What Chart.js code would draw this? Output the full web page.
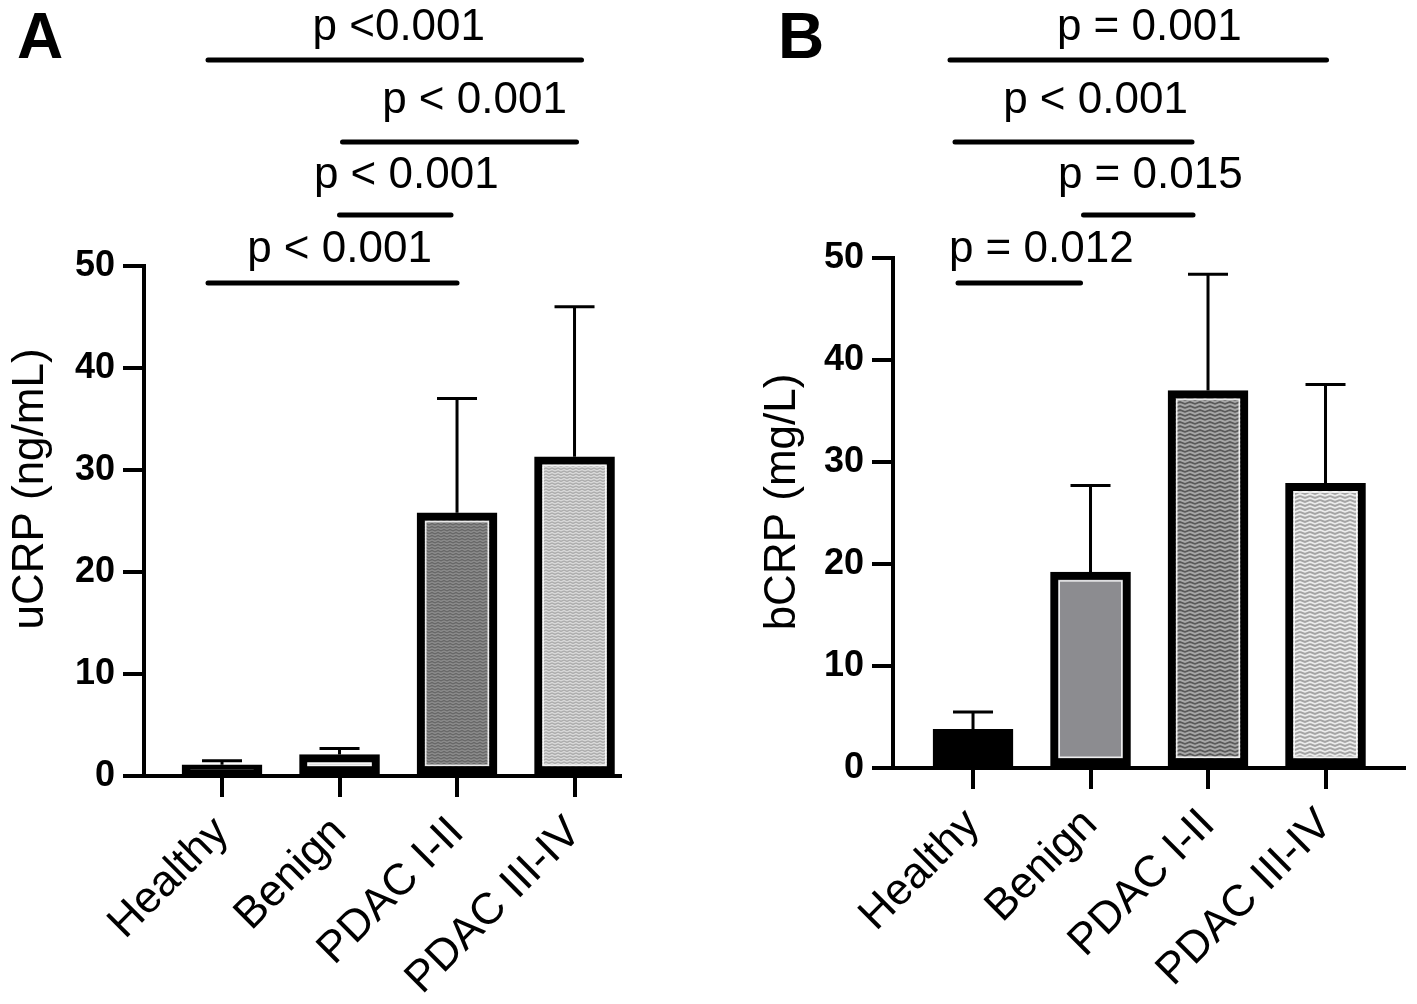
<!DOCTYPE html>
<html>
<head>
<meta charset="utf-8">
<script src="https://cdn.jsdelivr.net/npm/chart.js@4.4.1/dist/chart.umd.min.js"></script>
<style>
body{margin:0;background:#fff;width:1417px;height:1004px;position:relative;overflow:hidden}
canvas{position:absolute;top:0}
#chartA{left:0}
#chartB{left:700px}
</style>
</head>
<body>
<canvas id="chartA" width="700" height="1004"></canvas>
<canvas id="chartB" width="717" height="1004"></canvas>
<script>
// data
var groups = ["Healthy", "Benign", "PDAC I-II", "PDAC III-IV"];
var yTicks = [0, 10, 20, 30, 40, 50];
var uCrpMean = [1.1, 2.1, 25.8, 31.3];
var uCrpSd = [0.4, 0.6, 11.2, 14.7];
var bCrpMean = [3.8, 19.2, 37.0, 27.9];
var bCrpSd = [1.7, 8.5, 11.4, 9.7];
var uCrpPairs = [[0, 3], [1, 3], [1, 2], [0, 2]];
var uCrpP = ["p <0.001", "p < 0.001", "p < 0.001", "p < 0.001"];
var bCrpPairs = [[0, 3], [0, 2], [1, 2], [0, 1]];
var bCrpP = ["p = 0.001", "p < 0.001", "p = 0.015", "p = 0.012"];

Chart.defaults.font.family = "'Liberation Sans', Arial, sans-serif";
Chart.defaults.color = "#000";

function zigzag(ctx, bg, fg, w, h, lw) {
	var tile = document.createElement('canvas');
	tile.width = w;
	tile.height = h;
	var g = tile.getContext('2d');
	g.fillStyle = bg;
	g.fillRect(0, 0, w, h);
	g.strokeStyle = fg;
	g.lineWidth = lw;
	g.beginPath();
	for (var y = -h; y <= 2 * h; y += h / 2) {
		g.moveTo(0, y);
		g.lineTo(w / 2, y + h / 4);
		g.lineTo(w, y);
	}
	g.stroke();
	return ctx.createPattern(tile, 'repeat');
}

function overlay(cfg) {
	return {
		id: 'overlay',
		afterDatasetsDraw: function (chart) {
			var c = chart.ctx, xs = chart.scales.x, ys = chart.scales.y;
			var bars = chart.getDatasetMeta(0).data;
			c.save();
			//light edge inside the black frame
			bars.forEach(function (b, i) {
				if (!cfg.innerEdge[i]) return;
				var p = b.getProps(['x', 'y', 'base', 'width'], true);
				c.strokeStyle = 'rgba(255,255,255,0.85)';
				c.lineWidth = 1.5;
				c.strokeRect(p.x - p.width / 2 + 8.75, p.y + 8.75, p.width - 17.5, Math.max(p.base - p.y - 17.5, 1));
			});
			//error bars, upper side only
			c.strokeStyle = '#000';
			c.lineWidth = 3;
			cfg.means.forEach(function (m, i) {
				var x = xs.getPixelForValue(i);
				var y0 = ys.getPixelForValue(m);
				var y1 = ys.getPixelForValue(m + cfg.sd[i]);
				c.beginPath();
				c.moveTo(x, y0);
				c.lineTo(x, y1);
				c.moveTo(x - 20, y1);
				c.lineTo(x + 20, y1);
				c.stroke();
			});
			c.restore();
		},
		afterDraw: function (chart) {
			var c = chart.ctx, xs = chart.scales.x;
			c.save();
			c.fillStyle = '#000';
			c.strokeStyle = '#000';
			//significance brackets
			c.lineWidth = 5;
			c.lineCap = 'round';
			c.font = "44px 'Liberation Sans', Arial, sans-serif";
			c.textAlign = 'center';
			c.textBaseline = 'alphabetic';
			cfg.pairs.forEach(function (pr, k) {
				var x1 = xs.getPixelForValue(pr[0]) + cfg.nudge[k][0];
				var x2 = xs.getPixelForValue(pr[1]) + cfg.nudge[k][1];
				c.beginPath();
				c.moveTo(x1, cfg.lineY[k]);
				c.lineTo(x2, cfg.lineY[k]);
				c.stroke();
				c.fillText(cfg.pLabels[k], (x1 + x2) / 2 + cfg.textDx[k], cfg.textY[k]);
			});
			//y axis title
			c.save();
			c.translate(cfg.titleX, cfg.titleY);
			c.rotate(-Math.PI / 2);
			c.textBaseline = 'middle';
			c.fillText(cfg.title, 0, 0);
			c.restore();
			//panel letter
			c.font = "bold 64px 'Liberation Sans', Arial, sans-serif";
			c.textAlign = 'left';
			c.fillText(cfg.letter, cfg.letterX, 58);
			c.restore();
		}
	};
}

function panelChart(id, cfg) {
	var ctx = document.getElementById(id).getContext('2d');
	return new Chart(ctx, {
		type: 'bar',
		data: {
			datasets: [{
				data: cfg.means.map(function (m, i) { return {x: i, y: m}; }),
				backgroundColor: cfg.fills(ctx),
				borderColor: '#000',
				borderWidth: 8,
				borderSkipped: false,
				barThickness: 80
			}]
		},
		options: {
			responsive: false,
			animation: false,
			devicePixelRatio: 1,
			layout: {padding: {left: 0, top: cfg.top, right: cfg.right, bottom: 0}},
			plugins: {legend: {display: false}, tooltip: {enabled: false}},
			scales: {
				x: {
					type: 'linear',
					offset: false,
					min: cfg.xMin,
					max: cfg.xMax,
					afterBuildTicks: function (s) {
						s.ticks = groups.map(function (g, i) { return {value: i}; });
					},
					afterFit: function (s) { s.height = cfg.xHeight; },
					ticks: {
						autoSkip: false,
						minRotation: 45,
						maxRotation: 45,
						padding: 10,
						color: '#000',
						font: {size: 44},
						callback: function (v) { return groups[v]; }
					},
					grid: {offset: false, drawOnChartArea: false, color: '#000', lineWidth: 4, tickLength: 21},
					border: {color: '#000', width: 4}
				},
				y: {
					min: 0,
					max: 50,
					afterBuildTicks: function (s) {
						s.ticks = yTicks.map(function (v) { return {value: v}; });
					},
					afterFit: function (s) { s.width = cfg.yWidth; },
					ticks: {padding: 8, color: '#000', font: {size: 36, weight: 'bold'}},
					grid: {drawOnChartArea: false, color: '#000', lineWidth: 4, tickLength: 21},
					border: {color: '#000', width: 4}
				}
			}
		},
		plugins: [overlay(cfg)]
	});
}

panelChart('chartA', {
	means: uCrpMean,
	sd: uCrpSd,
	pairs: uCrpPairs,
	pLabels: uCrpP,
	title: 'uCRP (ng/mL)',
	letter: 'A',
	fills: function (ctx) {
		return ['#000', '#c4c4c4', zigzag(ctx, '#666', '#8c8c8c', 6, 6, 1.5), zigzag(ctx, '#dcdcdc', '#adadad', 6, 6, 1.5)];
	},
	innerEdge: [false, true, true, true],
	top: 266, right: 80, yWidth: 144, xHeight: 228,
	xMin: -0.664, xMax: 3.387,
	lineY: [60, 142, 215, 283],
	textY: [40, 113, 188, 262],
	nudge: [[-14, 7], [3, 2], [0, -6], [-14, 0]],
	textDx: [4, 15, 11, 7],
	titleX: 31, titleY: 489, letterX: 17
});

panelChart('chartB', {
	means: bCrpMean,
	sd: bCrpSd,
	pairs: bCrpPairs,
	pLabels: bCrpP,
	title: 'bCRP (mg/L)',
	letter: 'B',
	fills: function (ctx) {
		return ['#000', '#8c8c90', zigzag(ctx, '#5a5a5a', '#a8a8a8', 10, 8, 2), zigzag(ctx, '#ececec', '#a4a4a4', 10, 8, 2)];
	},
	innerEdge: [false, true, true, true],
	top: 258, right: 13, yWidth: 193, xHeight: 236,
	xMin: -0.681, xMax: 3.668,
	lineY: [60, 142, 215, 283],
	textY: [40, 113, 188, 262],
	nudge: [[-23, 1], [-18, -16], [-7, -15], [-15, -10]],
	textDx: [11, 22, 12, 22],
	titleX: 83, titleY: 502, letterX: 78
});
</script>
</body>
</html>
